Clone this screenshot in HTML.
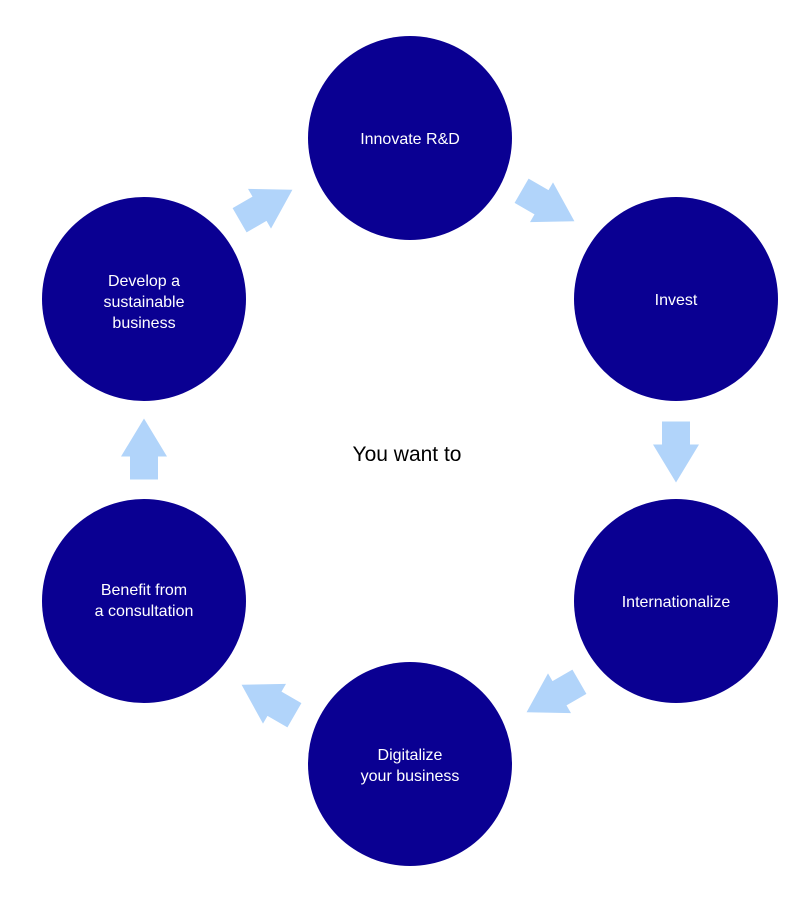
<!DOCTYPE html>
<html><head><style>
body{margin:0;background:#fff;}
</style></head><body>
<svg width="808" height="901" xmlns="http://www.w3.org/2000/svg" font-family="Liberation Sans, sans-serif">
<defs>
<polygon id="a" points="-14,-30.5 14,-30.5 14,-7.5 23,-7.5 0,30.5 -23,-7.5 -14,-7.5" fill="#b1d4fa"/>
</defs>
<g fill="#0a0092">
<circle cx="410" cy="138" r="102"/>
<circle cx="676" cy="299" r="102"/>
<circle cx="676" cy="601" r="102"/>
<circle cx="410" cy="764" r="102"/>
<circle cx="144" cy="601" r="102"/>
<circle cx="144" cy="299" r="102"/>
</g>
<use href="#a" transform="translate(676,452)"/>
<use href="#a" transform="translate(144,449) rotate(180)"/>
<use href="#a" transform="translate(548,206) rotate(-60)"/>
<use href="#a" transform="translate(266,205) rotate(-120)"/>
<use href="#a" transform="translate(553,697) rotate(60)"/>
<use href="#a" transform="translate(268,700) rotate(120)"/>
<g fill="#fff" font-size="16" text-anchor="middle">
<text x="410" y="144">Innovate R&amp;D</text>
<text x="676" y="305">Invest</text>
<text x="676" y="607">Internationalize</text>
<text x="410" y="760">Digitalize</text>
<text x="410" y="781">your business</text>
<text x="144" y="595">Benefit from</text>
<text x="144" y="616">a consultation</text>
<text x="144" y="286">Develop a</text>
<text x="144" y="307">sustainable</text>
<text x="144" y="328">business</text>
</g>
<text x="407" y="461" font-size="21" text-anchor="middle" fill="#000">You want to</text>
</svg>
</body></html>
